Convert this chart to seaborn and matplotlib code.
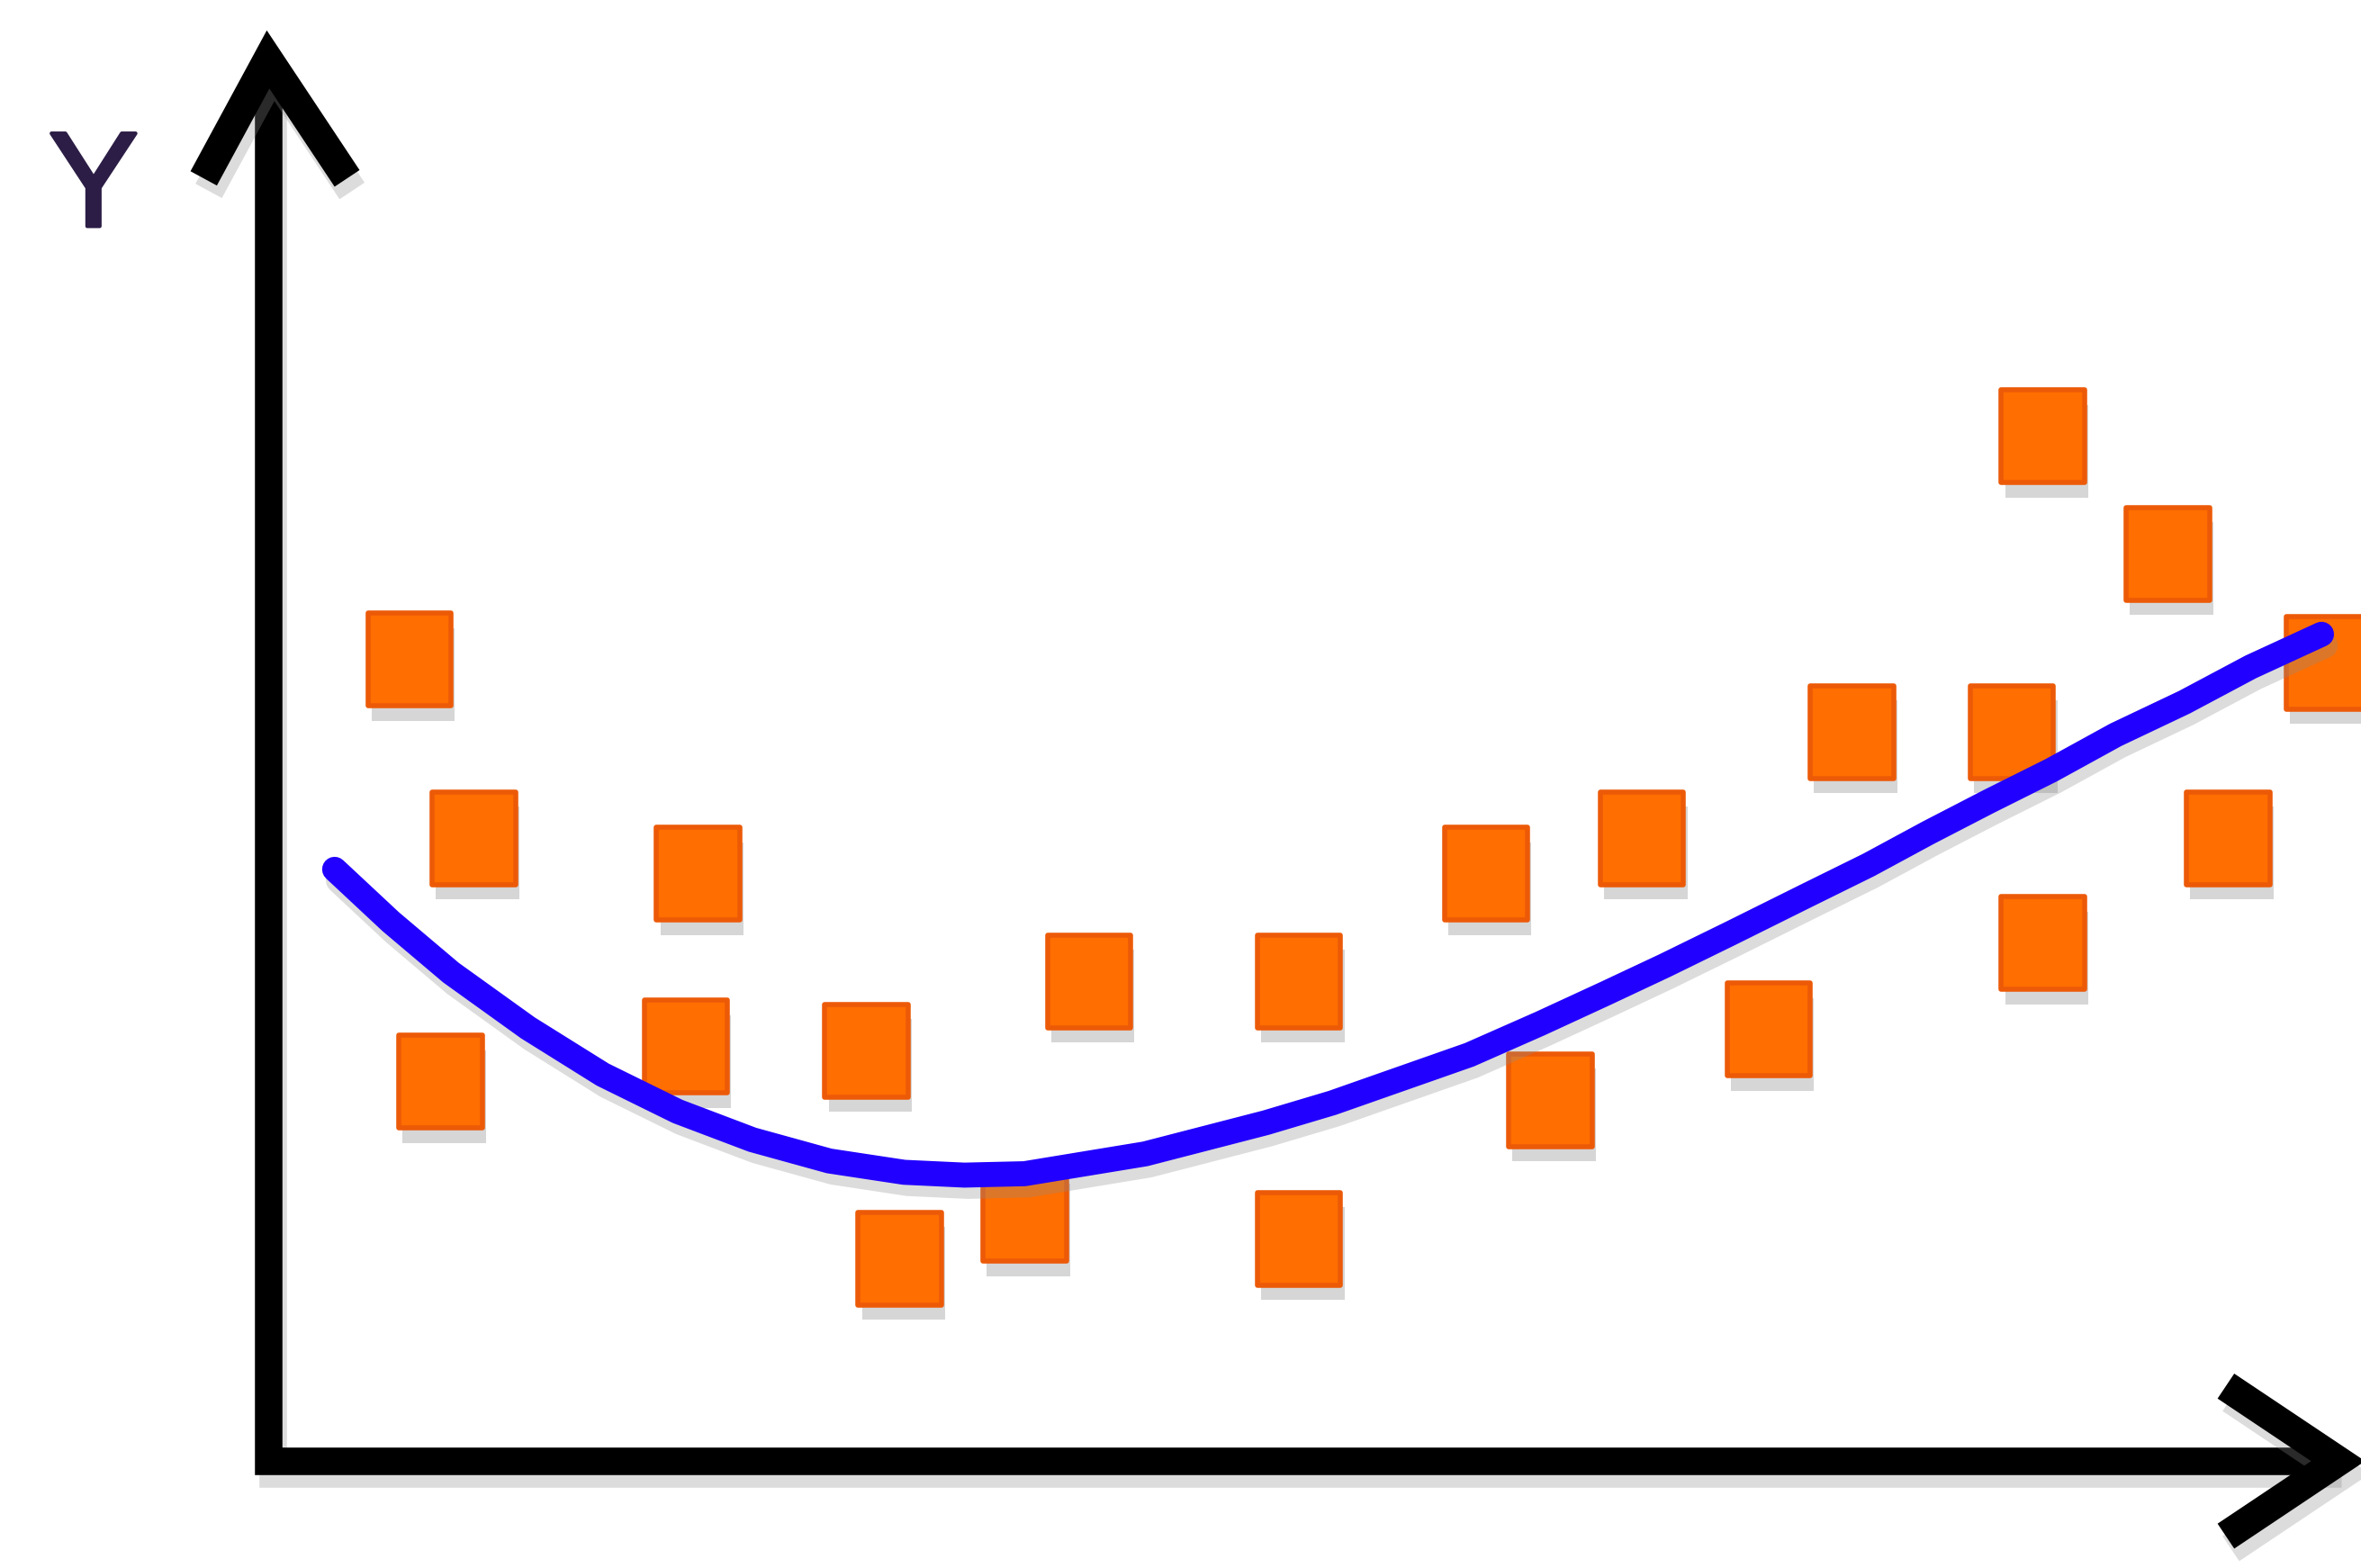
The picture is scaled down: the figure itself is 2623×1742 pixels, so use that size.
import numpy as np
import matplotlib
matplotlib.use("Agg")
import matplotlib.pyplot as plt
import matplotlib.patheffects as pe
from matplotlib.path import Path
from matplotlib.markers import MarkerStyle
import seaborn as sns

# Puntos (datos observados)
x_puntos = [0.68, 0.99, 0.83, 2.07, 2.01, 2.88, 3.04, 3.64, 3.95, 4.96, 4.96,
            5.86, 6.17, 6.61, 7.22, 7.62, 8.39, 8.54, 9.14, 8.54, 9.43, 9.91]
y_puntos = [5.66, 4.40, 2.68, 4.15, 2.93, 2.90, 1.43, 1.74, 3.39, 3.39, 1.57,
            4.15, 2.55, 4.40, 3.05, 5.15, 5.15, 7.24, 6.41, 3.66, 4.40, 5.64]

# Curva de regresión polinómica
x_curva = [0.32, 0.59, 0.88, 1.25, 1.61, 1.97, 2.33, 2.70, 3.06, 3.35, 3.64,
           3.93, 4.22, 4.51, 4.80, 5.12, 5.45, 5.78, 6.12, 6.43, 6.72, 7.04,
           7.41, 7.70, 7.99, 8.28, 8.58, 8.89, 9.22, 9.54, 9.88]
y_curva = [4.18, 3.81, 3.45, 3.06, 2.73, 2.47, 2.27, 2.12, 2.04, 2.02, 2.03,
           2.10, 2.17, 2.28, 2.39, 2.53, 2.70, 2.87, 3.09, 3.30, 3.50, 3.73,
           4.00, 4.21, 4.44, 4.66, 4.88, 5.13, 5.36, 5.61, 5.84]

etiqueta_y = "Y"

sns.set_style("white")
plt.rcParams['font.family'] = ['Liberation Sans', 'DejaVu Sans']

fig = plt.figure(figsize=(26.23, 17.42), dpi=100)
ax = fig.add_axes([0, 0, 1, 1])
ax.set_xlim(-1.29, 10.07)
ax.set_ylim(-0.755, 10.32)
ax.axis("off")

sombra = [pe.SimplePatchShadow(offset=(3, -12), shadow_rgbFace="#8c8c8c", alpha=0.35), pe.Normal()]
sombra_linea = [pe.SimpleLineShadow(offset=(4, -10), shadow_color="#8c8c8c", alpha=0.3), pe.Normal()]

# Ejes con flechas
lw_eje = 22
ax.plot([0, 0, 9.95], [9.9, 0, 0], color="black", lw=lw_eje, solid_capstyle="butt",
        solid_joinstyle="miter", path_effects=sombra_linea)
ax.plot([-0.31, 0, 0.38], [9.06, 9.9, 9.06], color="black", lw=lw_eje + 2,
        solid_joinstyle="miter", solid_capstyle="butt", path_effects=sombra_linea)
ax.plot([9.42, 9.96, 9.42], [0.53, 0, -0.53], color="black", lw=lw_eje + 2,
        solid_joinstyle="miter", solid_capstyle="butt", path_effects=sombra_linea)

# Cuadrados naranjas
rect = Path([(-0.45, -0.5), (0.45, -0.5), (0.45, 0.5), (-0.45, 0.5), (-0.45, -0.5)],
            [Path.MOVETO, Path.LINETO, Path.LINETO, Path.LINETO, Path.CLOSEPOLY])
sns.scatterplot(x=x_puntos, y=y_puntos, marker=MarkerStyle(rect), s=5500,
                color="#ff6e00", edgecolor="#ec5a08", linewidth=4, ax=ax, zorder=3)
for col in ax.collections:
    col.set_path_effects(sombra)

# Curva azul
sns.lineplot(x=x_curva, y=y_curva, color="#2200ff", linewidth=20, ax=ax, sort=False, zorder=4,
             solid_capstyle="round", solid_joinstyle="round",
             path_effects=[pe.SimpleLineShadow(offset=(3, -9), shadow_color="#8c8c8c", alpha=0.3), pe.Normal()])

ax.text(-0.84, 8.97, etiqueta_y, fontsize=108, color="#2b1d45", ha="center", va="center",
        path_effects=[pe.withStroke(linewidth=3, foreground="#2b1d45")])

plt.savefig("out.png", dpi=100)
